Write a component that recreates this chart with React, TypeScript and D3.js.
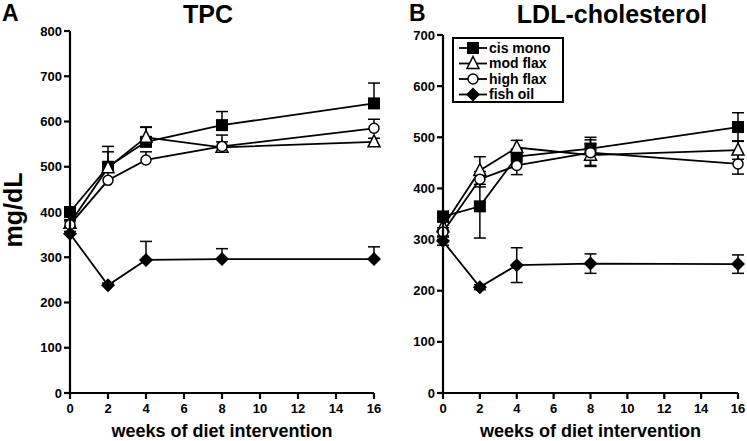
import * as d3 from 'd3';

const weeks = [0, 2, 4, 8, 16];
const xTicks = [0, 2, 4, 6, 8, 10, 12, 14, 16];
const seriesNames = ['cis mono', 'mod flax', 'high flax', 'fish oil'];
const markerKinds = ['square', 'triangle', 'circle', 'diamond'];

// TPC (panel A), mg/dL
const tpcCisMono = [400, 500, 555, 592, 640];
const tpcModFlax = [375, 498, 565, 543, 555];
const tpcHighFlax = [372, 470, 515, 545, 585];
const tpcFishOil = [352, 238, 294, 296, 296];
const tpcCisMonoErr = [8, 45, 33, 30, 45];
const tpcModFlaxErr = [8, 35, 22, 12, 8];
const tpcHighFlaxErr = [8, 32, 18, 25, 20];
const tpcFishOilErr = [5, 5, 41, 23, 27];

// LDL-cholesterol (panel B), mg/dL
const ldlCisMono = [345, 365, 462, 478, 520];
const ldlModFlax = [325, 435, 480, 465, 475];
const ldlHighFlax = [315, 418, 445, 470, 448];
const ldlFishOil = [297, 207, 250, 253, 252];
const ldlCisMonoErr = [10, 62, 15, 22, 28];
const ldlModFlaxErr = [10, 27, 14, 22, 18];
const ldlHighFlaxErr = [8, 15, 18, 25, 20];
const ldlFishOilErr = [8, 5, 34, 19, 18];

const FONT = 'Liberation Sans, Arial, sans-serif';

function Marker({ kind, x, y }: { kind: string; x: number; y: number }) {
  const s = 6;
  if (kind === 'square')
    return <rect x={x - s} y={y - s} width={2 * s} height={2 * s} fill="#000" />;
  if (kind === 'triangle')
    return (
      <path
        d={`M${x},${y - s - 1}L${x + s},${y + s - 1}L${x - s},${y + s - 1}Z`}
        fill="#fff"
        stroke="#000"
        strokeWidth={1.5}
      />
    );
  if (kind === 'circle')
    return <circle cx={x} cy={y} r={5} fill="#fff" stroke="#000" strokeWidth={1.5} />;
  return (
    <path d={`M${x},${y - 7}L${x + 7},${y}L${x},${y + 7}L${x - 7},${y}Z`} fill="#000" />
  );
}

type Panel = {
  left: number;
  right: number;
  top: number;
  bottom: number;
  yMax: number;
  series: number[][];
  errs: number[][];
  upperOnly: boolean;
};

function Plot({ left, right, top, bottom, yMax, series, errs, upperOnly }: Panel) {
  const x = d3.scaleLinear().domain([0, 16]).range([left, right]);
  const y = d3.scaleLinear().domain([0, yMax]).range([bottom, top]);
  const yTicks = d3.range(0, yMax + 1, 100);
  const line = d3
    .line<number>()
    .x((_, i) => x(weeks[i]))
    .y(d => y(d));

  return (
    <g>
      {series.map((vals, si) => (
        <path key={'l' + si} d={line(vals) || ''} fill="none" stroke="#000" strokeWidth={1.8} />
      ))}
      {series.map((vals, si) =>
        vals.map((v, i) => {
          const e = errs[si][i];
          const px = x(weeks[i]);
          const y1 = y(v + e);
          const y0 = upperOnly ? y(v) : y(v - e);
          return (
            <g key={`e${si}-${i}`} stroke="#000" strokeWidth={1.5}>
              <line x1={px} x2={px} y1={y0} y2={y1} />
              <line x1={px - 6} x2={px + 6} y1={y1} y2={y1} />
              {!upperOnly && <line x1={px - 6} x2={px + 6} y1={y0} y2={y0} />}
            </g>
          );
        }),
      )}
      {series.map((vals, si) =>
        vals.map((v, i) => (
          <Marker key={`m${si}-${i}`} kind={markerKinds[si]} x={x(weeks[i])} y={y(v)} />
        )),
      )}
      {/* axes */}
      <g stroke="#000" strokeWidth={2.2}>
        <line x1={left} x2={left} y1={top} y2={bottom + 1} />
        <line x1={left - 1} x2={right} y1={bottom} y2={bottom} />
        {yTicks.map(t => (
          <line key={'yt' + t} x1={left - 6} x2={left} y1={y(t)} y2={y(t)} />
        ))}
        {xTicks.map(t => (
          <line key={'xt' + t} x1={x(t)} x2={x(t)} y1={bottom} y2={bottom + 6} />
        ))}
      </g>
      {yTicks.map(t => (
        <text
          key={'yl' + t}
          x={left - 8}
          y={y(t)}
          dy="0.35em"
          textAnchor="end"
          fontSize={13}
          fontWeight="bold"
          fontFamily={FONT}
        >
          {t}
        </text>
      ))}
      {xTicks.map(t => (
        <text
          key={'xl' + t}
          x={x(t)}
          y={bottom + 20}
          textAnchor="middle"
          fontSize={13}
          fontWeight="bold"
          fontFamily={FONT}
        >
          {t}
        </text>
      ))}
      <text
        x={(left + right) / 2}
        y={437}
        textAnchor="middle"
        fontSize={18}
        fontWeight="bold"
        fontFamily={FONT}
      >
        weeks of diet intervention
      </text>
    </g>
  );
}

export default function App() {
  return (
    <svg width={747} height={441} style={{ position: 'absolute', left: 0, top: 0 }}>
      <rect width={747} height={441} fill="#fff" />
      <text x={2} y={21} fontSize={23} fontWeight="bold" fontFamily={FONT}>
        A
      </text>
      <text x={208} y={23} textAnchor="middle" fontSize={25} fontWeight="bold" fontFamily={FONT}>
        TPC
      </text>
      <text x={409} y={21} fontSize={23} fontWeight="bold" fontFamily={FONT}>
        B
      </text>
      <text x={612} y={23} textAnchor="middle" fontSize={25} fontWeight="bold" fontFamily={FONT}>
        LDL-cholesterol
      </text>
      <text
        transform="translate(22,210) rotate(-90)"
        textAnchor="middle"
        fontSize={25}
        fontWeight="bold"
        fontFamily={FONT}
      >
        mg/dL
      </text>
      <Plot
        left={70}
        right={374}
        top={31}
        bottom={393}
        yMax={800}
        series={[tpcCisMono, tpcModFlax, tpcHighFlax, tpcFishOil]}
        errs={[tpcCisMonoErr, tpcModFlaxErr, tpcHighFlaxErr, tpcFishOilErr]}
        upperOnly={true}
      />
      <Plot
        left={443}
        right={738}
        top={35}
        bottom={393}
        yMax={700}
        series={[ldlCisMono, ldlModFlax, ldlHighFlax, ldlFishOil]}
        errs={[ldlCisMonoErr, ldlModFlaxErr, ldlHighFlaxErr, ldlFishOilErr]}
        upperOnly={false}
      />
      {/* legend */}
      <g>
        <rect x={453} y={38} width={110} height={64} fill="#fff" stroke="#000" strokeWidth={2} />
        {seriesNames.map((name, i) => {
          const ry = 48 + i * 15.5;
          return (
            <g key={name}>
              <line x1={459} x2={487} y1={ry} y2={ry} stroke="#000" strokeWidth={1.8} />
              <Marker kind={markerKinds[i]} x={473} y={ry} />
              <text
                x={489}
                y={ry}
                dy="0.35em"
                fontSize={14}
                fontWeight="bold"
                fontFamily={FONT}
              >
                {name}
              </text>
            </g>
          );
        })}
      </g>
    </svg>
  );
}
